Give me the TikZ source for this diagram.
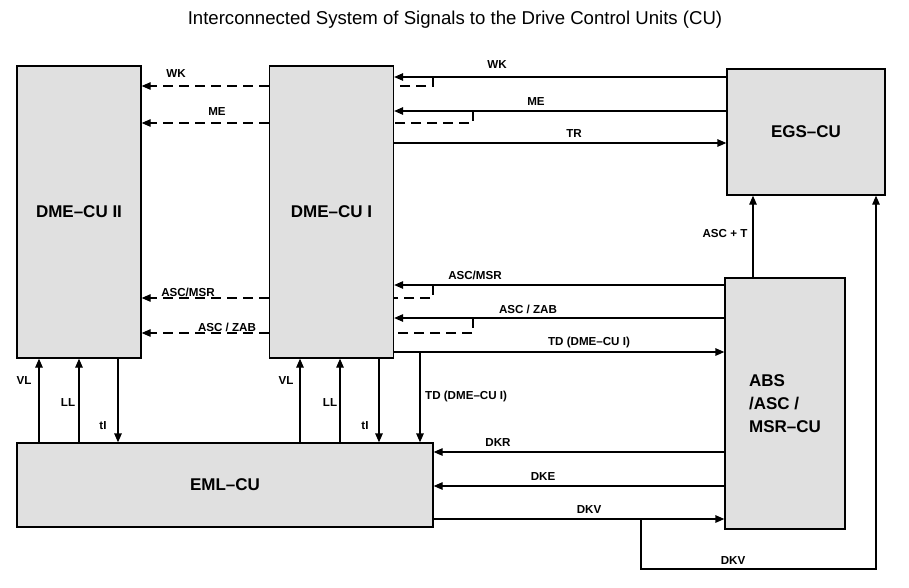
\documentclass[tikz,border=0pt]{standalone}
\usepackage{fontspec}
\setmainfont{Liberation Sans}
\usetikzlibrary{arrows.meta}
\tikzset{
  unit/.style  ={draw, line width=1.3pt, fill=black!12, inner sep=0pt,
                 font=\bfseries\fontsize{17}{23}\selectfont},
  sig/.style   ={-{Triangle[length=9pt,width=7.5pt]}, line width=1.3pt},
  sigd/.style  ={sig, line width=1.1pt, dash pattern=on 10pt off 6pt},
  brd/.style   ={line width=1.1pt, dash pattern=on 10pt off 6pt},
  lbl/.style   ={font=\bfseries\fontsize{11.6}{13}\selectfont, inner sep=1pt},
}
\begin{document}
\begin{tikzpicture}[x=1pt, y=-1pt]
  \useasboundingbox (0,0) rectangle (909,587);
  \node[font=\fontsize{18.6}{21}\selectfont] (title) at (455,20)
        {Interconnected System of Signals to the Drive Control Units (CU)};

  % control units
  \node[unit, minimum width=124pt, minimum height=292pt] (dmeII) at (79,212) {DME--CU II};
  \node[unit, minimum width=124pt, minimum height=292pt] (dmeI)  at (331.5,212) {DME--CU I};
  \node[unit, minimum width=158pt, minimum height=126pt] (egs)   at (806,132) {EGS--CU};
  \node[unit, minimum width=120pt, minimum height=251pt, align=left] (abs) at (785,403.5)
        {ABS\\/ASC /\\MSR--CU};
  \node[unit, minimum width=416pt, minimum height=84pt] (eml) at (225,485) {EML--CU};

  % EGS -> DME-CU I (and on to DME-CU II)
  \draw[sig] (egs.west |- 0,77) -- (dmeI.east |- 0,77);
  \draw[sig] (egs.west |- 0,111) -- (dmeI.east |- 0,111);
  \draw[sig] (dmeI.east |- 0,143) -- (egs.west |- 0,143);
  \draw[brd] (433,77) |- (dmeI.east |- 0,86);
  \draw[brd] (473,111) |- (dmeI.east |- 0,123);
  \draw[sigd] (dmeI.west |- 0,86) -- (dmeII.east |- 0,86);
  \draw[sigd] (dmeI.west |- 0,123) -- (dmeII.east |- 0,123);

  % ABS/ASC/MSR -> DME-CU I (and on to DME-CU II)
  \draw[sig] (abs.west |- 0,285) -- (dmeI.east |- 0,285);
  \draw[sig] (abs.west |- 0,318) -- (dmeI.east |- 0,318);
  \draw[sig] (dmeI.east |- 0,352) -- (abs.west |- 0,352);
  \draw[brd] (433,285) |- (dmeI.east |- 0,298);
  \draw[brd] (473,318) |- (dmeI.east |- 0,333);
  \draw[sigd] (dmeI.west |- 0,298) -- (dmeII.east |- 0,298);
  \draw[sigd] (dmeI.west |- 0,333) -- (dmeII.east |- 0,333);
  \draw[sig] (420,352) -- (eml.north -| 420,0);

  % EML <-> DME units
  \draw[sig] (eml.north -| 39,0) -- (dmeII.south -| 39,0);
  \draw[sig] (eml.north -| 79,0) -- (dmeII.south -| 79,0);
  \draw[sig] (dmeII.south -| 118,0) -- (eml.north -| 118,0);
  \draw[sig] (eml.north -| 300,0) -- (dmeI.south -| 300,0);
  \draw[sig] (eml.north -| 340,0) -- (dmeI.south -| 340,0);
  \draw[sig] (dmeI.south -| 379,0) -- (eml.north -| 379,0);

  % ABS/ASC/MSR <-> EML, EGS
  \draw[sig] (abs.west |- 0,452) -- (eml.east |- 0,452);
  \draw[sig] (abs.west |- 0,486) -- (eml.east |- 0,486);
  \draw[sig] (eml.east |- 0,519) -- (abs.west |- 0,519);
  \draw[sig] (abs.north -| 753,0) -- (egs.south -| 753,0);
  \draw[sig] (641,519) -- (641,569) -- (876,569) -- (egs.south -| 876,0);

  % signal names
  \node[lbl] (lwk1)  at (497,65)  {WK};
  \node[lbl] (lme1)  at (536,102) {ME};
  \node[lbl] (ltr)   at (574,134) {TR};
  \node[lbl] (lwk2)  at (176,74)  {WK};
  \node[lbl] (lme2)  at (217,112) {ME};
  \node[lbl] (lasc1) at (475,275) {ASC/MSR};
  \node[lbl] (lzab1) at (528,309) {ASC / ZAB};
  \node[lbl] (ltd1)  at (589,342) {TD (DME--CU I)};
  \node[lbl] (lasc2) at (188,292) {ASC/MSR};
  \node[lbl] (lzab2) at (227,327) {ASC / ZAB};
  \node[lbl, anchor=west] (ltd2) at (424,396) {TD (DME--CU I)};
  \node[lbl] (lvl1)  at (24,380)  {VL};
  \node[lbl] (lll1)  at (68,402)  {LL};
  \node[lbl] (lti1)  at (103,426) {tI};
  \node[lbl] (lvl2)  at (286,380) {VL};
  \node[lbl] (lll2)  at (330,402) {LL};
  \node[lbl] (lti2)  at (365,426) {tI};
  \node[lbl] (lasct) at (725,233) {ASC + T};
  \node[lbl] (ldkr)  at (498,442) {DKR};
  \node[lbl] (ldke)  at (543,476) {DKE};
  \node[lbl] (ldkv1) at (589,509) {DKV};
  \node[lbl] (ldkv2) at (733,560) {DKV};
\end{tikzpicture}
\end{document}
